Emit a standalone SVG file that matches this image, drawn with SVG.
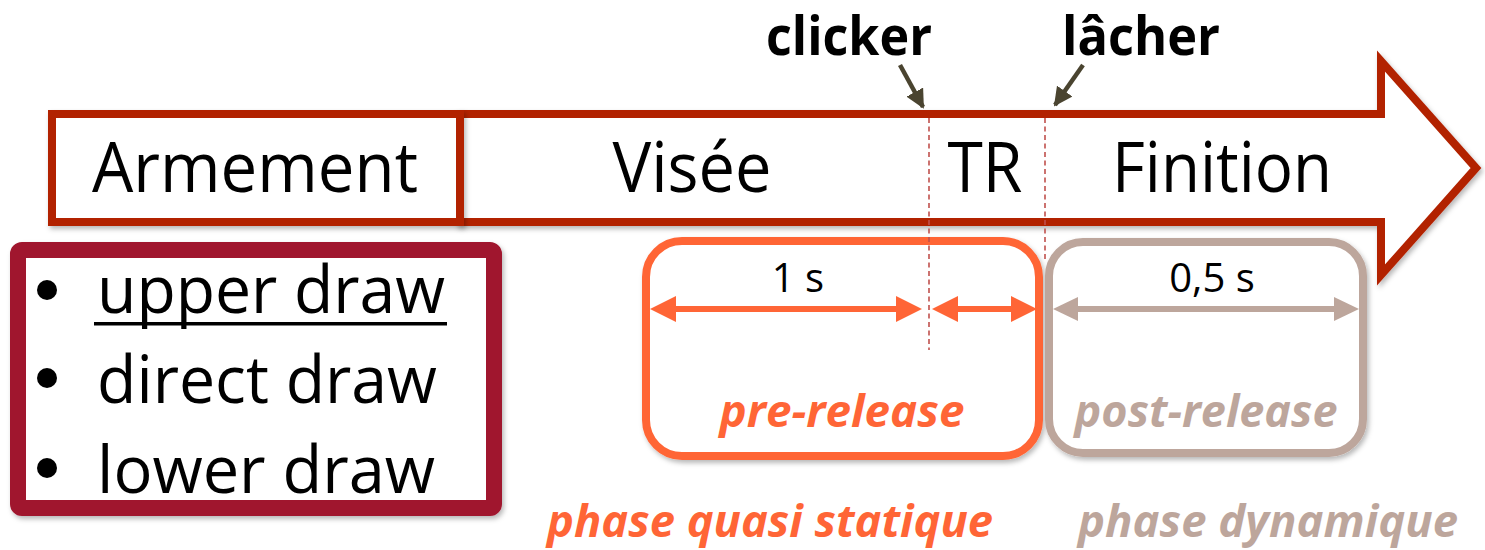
<svg xmlns="http://www.w3.org/2000/svg" width="1485" height="550" viewBox="0 0 1485 550">
  <style>
    .label { font-family: "Open Sans", "Noto Sans", sans-serif; fill: #000; }
    .big { font-size: 69px; }
    .tag { font-size: 53px; font-weight: bold; }
    .dur { font-size: 40px; }
    .phase { font-size: 45px; font-weight: bold; font-style: italic; }
    .orange { fill: #FF6536; }
    .beige { fill: #BDA69C; }
    .list { font-size: 66px; }
    .timeline { fill: #fff; stroke: #B22200; stroke-width: 8; stroke-linejoin: miter; }
    .marker-line { stroke: #C0504D; stroke-width: 1.6; stroke-dasharray: 5 3.5; fill: none; }
    .pointer { stroke: #4A4430; stroke-width: 4.5; fill: none; }
  </style>
  <defs>
    <filter id="shadow" x="-5%" y="-5%" width="115%" height="120%">
      <feDropShadow dx="2" dy="3" stdDeviation="2.5" flood-color="#000" flood-opacity="0.28"/>
    </filter>
    <marker id="headDark" viewBox="0 0 10 10" refX="9" refY="5" markerWidth="4.2" markerHeight="4.2" orient="auto">
      <path d="M0,0 L10,5 L0,10 z" fill="#4A4430"/>
    </marker>
  </defs>

  <rect width="1485" height="550" fill="#fff"/>

  <!-- time arrow -->
  <g id="timeline" filter="url(#shadow)">
    <path class="timeline" d="M460,114 L1381,114 L1381,61 L1476,168 L1381,275 L1381,222 L460,222 Z"/>
  </g>

  <!-- arming phase -->
  <g id="armement" filter="url(#shadow)">
    <rect x="52" y="114" width="408" height="108" fill="#fff" stroke="#B22200" stroke-width="8"/>
  </g>
  <g id="armement-label">
    <text class="label big" x="255" y="192" text-anchor="middle" textLength="326" lengthAdjust="spacingAndGlyphs">Armement</text>
  </g>

  <!-- phase labels along the arrow -->
  <g id="visee"><text class="label big" x="692" y="192" text-anchor="middle" textLength="159" lengthAdjust="spacingAndGlyphs">Visée</text></g>
  <g id="tr"><text class="label big" x="985" y="192" text-anchor="middle" textLength="75" lengthAdjust="spacingAndGlyphs">TR</text></g>
  <g id="finition"><text class="label big" x="1222" y="192" text-anchor="middle" textLength="220" lengthAdjust="spacingAndGlyphs">Finition</text></g>

  <!-- pre-release block -->
  <g id="pre-release" filter="url(#shadow)">
    <rect x="646" y="241" width="393" height="215" rx="36" fill="#fff" stroke="#FF6536" stroke-width="8"/>
  </g>
  <!-- post-release block -->
  <g id="post-release" filter="url(#shadow)">
    <rect x="1049" y="242" width="314" height="211" rx="34" fill="#fff" stroke="#BDA69C" stroke-width="8"/>
  </g>

  <!-- event markers -->
  <g id="connectors">
    <line class="marker-line" x1="929" y1="118" x2="929" y2="350"/>
    <line class="marker-line" x1="1045" y1="118" x2="1045" y2="262"/>
    <line class="pointer" x1="900" y1="65" x2="923" y2="107" marker-end="url(#headDark)"/>
    <line class="pointer" x1="1083" y1="65" x2="1055" y2="105" marker-end="url(#headDark)"/>

    <!-- duration arrows -->
    <g fill="#FF6536" stroke="none">
      <rect x="668" y="306" width="236" height="6"/>
      <path d="M650,309 L676,296 L676,322 Z"/>
      <path d="M922,309 L896,296 L896,322 Z"/>
      <rect x="950" y="306" width="70" height="6"/>
      <path d="M932,309 L958,296 L958,322 Z"/>
      <path d="M1037,309 L1011,296 L1011,322 Z"/>
    </g>
    <g fill="#BDA69C" stroke="none">
      <rect x="1070" y="306" width="272" height="6"/>
      <path d="M1053,309 L1078,297 L1078,321 Z"/>
      <path d="M1359,309 L1334,297 L1334,321 Z"/>
    </g>
  </g>

  <!-- event labels -->
  <g id="clicker"><text class="label tag" x="849" y="55" text-anchor="middle" textLength="166" lengthAdjust="spacingAndGlyphs">clicker</text></g>
  <g id="lacher"><text class="label tag" x="1141" y="55" text-anchor="middle" textLength="158" lengthAdjust="spacingAndGlyphs">lâcher</text></g>

  <!-- durations and phase names -->
  <g id="duration-1s"><text class="label dur" x="798" y="292" text-anchor="middle">1 s</text></g>
  <g id="duration-05s"><text class="label dur" x="1212" y="292" text-anchor="middle">0,5 s</text></g>
  <g id="pre-release-label"><text class="label phase orange" x="842" y="427" text-anchor="middle" textLength="245" lengthAdjust="spacingAndGlyphs">pre-release</text></g>
  <g id="post-release-label"><text class="label phase beige" x="1206" y="427" text-anchor="middle" textLength="263" lengthAdjust="spacingAndGlyphs">post-release</text></g>
  <g id="phase-quasi-statique"><text class="label phase orange" x="770" y="537" text-anchor="middle" textLength="446" lengthAdjust="spacingAndGlyphs">phase quasi statique</text></g>
  <g id="phase-dynamique"><text class="label phase beige" x="1268" y="537" text-anchor="middle" textLength="380" lengthAdjust="spacingAndGlyphs">phase dynamique</text></g>

  <!-- draw styles list -->
  <g id="draw-styles">
    <rect x="18" y="250" width="476" height="258" rx="4" fill="#fff" stroke="#A0152D" stroke-width="16" filter="url(#shadow)"/>
    <circle cx="47" cy="290" r="10" fill="#000"/>
    <circle cx="47" cy="378" r="10" fill="#000"/>
    <circle cx="47" cy="468" r="10" fill="#000"/>
    <text class="label list" x="97" y="313" textLength="348" lengthAdjust="spacingAndGlyphs">upper draw</text>
    <rect x="94" y="322" width="353" height="3.5" fill="#000"/>
    <text class="label list" x="97" y="403" textLength="340" lengthAdjust="spacingAndGlyphs">direct draw</text>
    <text class="label list" x="97" y="493" textLength="338" lengthAdjust="spacingAndGlyphs">lower draw</text>
  </g>
</svg>
